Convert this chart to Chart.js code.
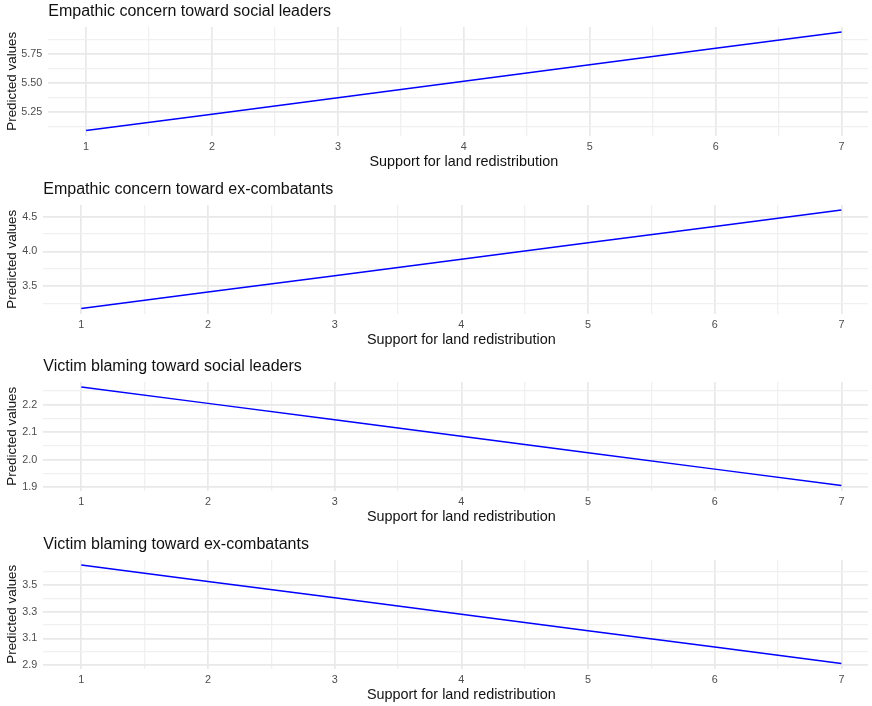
<!DOCTYPE html>
<html>
<head>
<meta charset="utf-8">
<script src="https://cdn.jsdelivr.net/npm/chart.js@4/dist/chart.umd.min.js"></script>
<style>
  html, body { margin: 0; padding: 0; background: #ffffff; overflow: hidden; }
  #wrap { position: relative; width: 872px; height: 706px; }
  .panel { position: absolute; left: 0; width: 872px; height: 178px; }
</style>
</head>
<body>
<div id="wrap">
  <div class="panel" style="top:0px"><canvas id="p0" width="872" height="178"></canvas></div>
  <div class="panel" style="top:178px"><canvas id="p1" width="872" height="178"></canvas></div>
  <div class="panel" style="top:355px"><canvas id="p2" width="872" height="178"></canvas></div>
  <div class="panel" style="top:533px"><canvas id="p3" width="872" height="178"></canvas></div>
</div>
<script>
// Predictor: support for land redistribution (1-7 scale)
const supportLevels = [1, 2, 3, 4, 5, 6, 7];
const xMajorTicks = [1, 2, 3, 4, 5, 6, 7];
const xMinorTicks = [1.5, 2.5, 3.5, 4.5, 5.5, 6.5];

// Model predictions for each outcome
const empathySocialLeaders = [5.089, 5.231, 5.373, 5.515, 5.658, 5.800, 5.942];
const empathyExCombatants  = [3.181, 3.417, 3.653, 3.889, 4.124, 4.360, 4.596];
const blamingSocialLeaders = [2.265, 2.205, 2.145, 2.085, 2.025, 1.965, 1.905];
const blamingExCombatants  = [3.649, 3.526, 3.404, 3.281, 3.158, 3.036, 2.913];

// Y tick positions per panel
const yMajor0 = [5.25, 5.50, 5.75];       const yMinor0 = [5.125, 5.375, 5.625, 5.875];
const yMajor1 = [3.5, 4.0, 4.5];          const yMinor1 = [3.25, 3.75, 4.25];
const yMajor2 = [1.9, 2.0, 2.1, 2.2];     const yMinor2 = [1.95, 2.05, 2.15, 2.25];
const yMajor3 = [2.9, 3.1, 3.3, 3.5];     const yMinor3 = [3.0, 3.2, 3.4, 3.6];

const panelTitles = [
  'Empathic concern toward social leaders',
  'Empathic concern toward ex-combatants',
  'Victim blaming toward social leaders',
  'Victim blaming toward ex-combatants'
];
const xAxisTitle = 'Support for land redistribution';
const yAxisTitle = 'Predicted values';

const FONT = "'Liberation Sans', Arial, Helvetica, sans-serif";
const X_PANEL_MIN = 0.7, X_PANEL_MAX = 7.3, X_VISIBLE_MAX = 7.21;
const MAJOR_GRID = '#e9e9e9', MINOR_GRID = '#f0f0f0';

const isIn = (arr, v) => arr.some(a => Math.abs(a - v) < 1e-9);

// Panel title (left-aligned to the plotting area) and centred x-axis title
const panelText = {
  id: 'panelText',
  afterDraw(chart, args, opts) {
    const { ctx, chartArea, scales } = chart;
    ctx.save();
    ctx.fillStyle = '#111111';
    ctx.textBaseline = 'middle';
    ctx.font = `16px ${FONT}`;
    ctx.textAlign = 'left';
    ctx.fillText(opts.title, chartArea.left, 12);
    ctx.font = `14.4px ${FONT}`;
    ctx.textAlign = 'center';
    const cx = (scales.x.getPixelForValue(X_PANEL_MIN) + scales.x.getPixelForValue(X_PANEL_MAX)) / 2;
    ctx.fillText(opts.xTitle, cx, 162);
    ctx.restore();
  }
};

function makePanel(id, title, values, yMajor, yMinor, decimals, plotLeft) {
  const lo = Math.min(...values), hi = Math.max(...values);
  const pad = (hi - lo) * 0.05;
  const yTicks = [...yMajor, ...yMinor].sort((a, b) => a - b);
  const xTicks = [...xMajorTicks, ...xMinorTicks].sort((a, b) => a - b);

  new Chart(document.getElementById(id), {
    type: 'line',
    data: {
      datasets: [{
        data: supportLevels.map((x, i) => ({ x, y: values[i] })),
        borderColor: '#0000ff',
        borderWidth: 1.5,
        pointRadius: 0,
        tension: 0,
        fill: false
      }]
    },
    options: {
      responsive: false,
      animation: false,
      devicePixelRatio: 1,
      layout: { padding: { top: 27, right: 4, bottom: 0, left: 0 } },
      plugins: {
        legend: { display: false },
        tooltip: { enabled: false },
        panelText: { title, xTitle: xAxisTitle }
      },
      scales: {
        x: {
          type: 'linear',
          min: X_PANEL_MIN,
          max: X_VISIBLE_MAX,
          border: { display: false },
          grid: {
            drawTicks: false,
            color: c => isIn(xMajorTicks, c.tick.value) ? MAJOR_GRID : MINOR_GRID,
            lineWidth: c => isIn(xMajorTicks, c.tick.value) ? 1.7 : 1.3
          },
          ticks: {
            autoSkip: false,
            maxRotation: 0,
            padding: 5,
            color: '#4d4d4d',
            font: { family: FONT, size: 10.8 },
            callback: v => isIn(xMajorTicks, v) ? String(v) : ''
          },
          afterBuildTicks(s) { s.ticks = xTicks.map(v => ({ value: v })); },
          afterFit(s) { s.height = 42.5; }
        },
        y: {
          type: 'linear',
          min: lo - pad,
          max: hi + pad,
          border: { display: false },
          grid: {
            drawTicks: false,
            color: c => isIn(yMajor, c.tick.value) ? MAJOR_GRID : MINOR_GRID,
            lineWidth: c => isIn(yMajor, c.tick.value) ? 1.7 : 1.3
          },
          ticks: {
            autoSkip: false,
            padding: 6,
            color: '#4d4d4d',
            font: { family: FONT, size: 10.8 },
            callback: v => isIn(yMajor, v) ? Number(v).toFixed(decimals) : ''
          },
          title: {
            display: true,
            text: yAxisTitle,
            color: '#111111',
            font: { family: FONT, size: 13.4 },
            padding: { top: 4, bottom: 0 }
          },
          afterBuildTicks(s) { s.ticks = yTicks.map(v => ({ value: v })); },
          afterFit(s) { s.width = plotLeft; }
        }
      }
    },
    plugins: [panelText]
  });
}

makePanel('p0', panelTitles[0], empathySocialLeaders, yMajor0, yMinor0, 2, 48.3);
makePanel('p1', panelTitles[1], empathyExCombatants,  yMajor1, yMinor1, 1, 43.3);
makePanel('p2', panelTitles[2], blamingSocialLeaders, yMajor2, yMinor2, 1, 43.3);
makePanel('p3', panelTitles[3], blamingExCombatants,  yMajor3, yMinor3, 1, 43.3);
</script>
</body>
</html>
